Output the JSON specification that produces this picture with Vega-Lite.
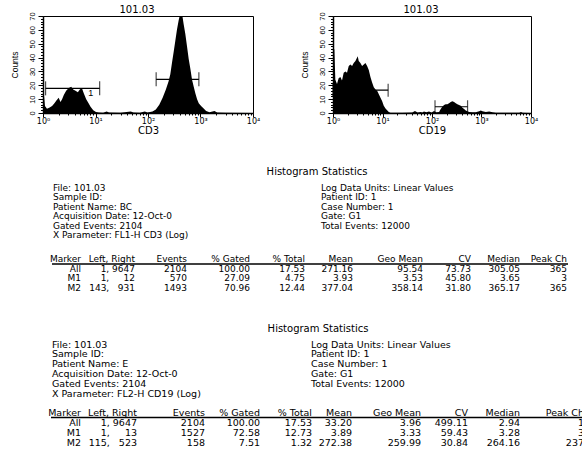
{
  "$schema": "https://vega.github.io/schema/vega-lite/v6.json",
  "padding": {"left": 9, "top": 4, "right": 0, "bottom": 0},
  "background": "white",
  "spacing": 31,
  "config": {
    "view": {"stroke": null},
    "font": "DejaVu Sans",
    "axis": {"domainColor": "black", "tickColor": "black", "labelColor": "black", "titleColor": "black", "grid": false, "titleFontWeight": "normal", "labelFlush": false},
    "title": {"fontWeight": "normal", "color": "black", "font": "DejaVu Sans"},
    "text": {"color": "black"}
  },
  "datasets": {
    "cd3": [
      {"fl": 1.0, "count": 14}, {"fl": 1.045, "count": 12}, {"fl": 1.09, "count": 5}, {"fl": 1.19, "count": 3}, {"fl": 1.34, "count": 4},
      {"fl": 1.49, "count": 5}, {"fl": 1.65, "count": 7}, {"fl": 1.8, "count": 9}, {"fl": 1.99, "count": 11}, {"fl": 2.15, "count": 8},
      {"fl": 2.31, "count": 10}, {"fl": 2.49, "count": 13}, {"fl": 2.76, "count": 16}, {"fl": 3.1, "count": 18}, {"fl": 3.44, "count": 19},
      {"fl": 3.75, "count": 17}, {"fl": 4.16, "count": 16}, {"fl": 4.61, "count": 15}, {"fl": 5.03, "count": 17}, {"fl": 5.5, "count": 18},
      {"fl": 6.0, "count": 14}, {"fl": 6.65, "count": 10}, {"fl": 7.38, "count": 7}, {"fl": 8.05, "count": 4.5}, {"fl": 9.06, "count": 2},
      {"fl": 10.2, "count": 0.8}, {"fl": 11.6, "count": 0.3}, {"fl": 14, "count": 0.2}, {"fl": 16.3, "count": 1}, {"fl": 18.1, "count": 0.3},
      {"fl": 30, "count": 0.2}, {"fl": 46.9, "count": 1}, {"fl": 52.8, "count": 0.3}, {"fl": 70, "count": 0.2}, {"fl": 86.9, "count": 1},
      {"fl": 97.8, "count": 0.3}, {"fl": 122, "count": 1}, {"fl": 141, "count": 2.5}, {"fl": 164, "count": 6}, {"fl": 190, "count": 11},
      {"fl": 219, "count": 17}, {"fl": 247, "count": 23}, {"fl": 266, "count": 28}, {"fl": 286, "count": 36}, {"fl": 308, "count": 44},
      {"fl": 331, "count": 52}, {"fl": 356, "count": 60}, {"fl": 384, "count": 67}, {"fl": 413, "count": 72}, {"fl": 444, "count": 72},
      {"fl": 478, "count": 64}, {"fl": 514, "count": 57}, {"fl": 554, "count": 48}, {"fl": 596, "count": 39}, {"fl": 641, "count": 32},
      {"fl": 690, "count": 24}, {"fl": 743, "count": 19}, {"fl": 800, "count": 14}, {"fl": 861, "count": 10}, {"fl": 926, "count": 7},
      {"fl": 1026, "count": 5}, {"fl": 1137, "count": 3.5}, {"fl": 1279, "count": 1.5}, {"fl": 1482, "count": 0.5}, {"fl": 1846, "count": 1.5},
      {"fl": 2077, "count": 0.3}, {"fl": 3000, "count": 0.1}, {"fl": 10000, "count": 0}
    ],
    "cd19": [
      {"fl": 1.0, "count": 46}, {"fl": 1.064, "count": 46}, {"fl": 1.115, "count": 24}, {"fl": 1.205, "count": 21}, {"fl": 1.3, "count": 25},
      {"fl": 1.41, "count": 26}, {"fl": 1.52, "count": 23.5}, {"fl": 1.645, "count": 29}, {"fl": 1.78, "count": 30}, {"fl": 1.92, "count": 29},
      {"fl": 2.08, "count": 34}, {"fl": 2.25, "count": 35}, {"fl": 2.43, "count": 34}, {"fl": 2.62, "count": 36}, {"fl": 2.84, "count": 37.5},
      {"fl": 3.07, "count": 40}, {"fl": 3.16, "count": 41}, {"fl": 3.31, "count": 37.5}, {"fl": 3.58, "count": 36}, {"fl": 3.87, "count": 34},
      {"fl": 4.19, "count": 35}, {"fl": 4.52, "count": 36}, {"fl": 4.89, "count": 34}, {"fl": 5.28, "count": 31}, {"fl": 5.71, "count": 26},
      {"fl": 6.17, "count": 22}, {"fl": 6.67, "count": 18.5}, {"fl": 7.21, "count": 17}, {"fl": 7.8, "count": 16}, {"fl": 8.43, "count": 13.5},
      {"fl": 9.11, "count": 11}, {"fl": 9.85, "count": 8.5}, {"fl": 10.6, "count": 5.3}, {"fl": 11.5, "count": 3.3}, {"fl": 12.4, "count": 2},
      {"fl": 13.4, "count": 0.8}, {"fl": 14.5, "count": 0.2}, {"fl": 25, "count": 0.1}, {"fl": 39.9, "count": 0.3}, {"fl": 45.2, "count": 1.5},
      {"fl": 51.2, "count": 0.3}, {"fl": 58.9, "count": 0.8}, {"fl": 63.7, "count": 0.3}, {"fl": 68.8, "count": 1}, {"fl": 76.8, "count": 0.5},
      {"fl": 86.9, "count": 1}, {"fl": 98.4, "count": 0.4}, {"fl": 110, "count": 1.5}, {"fl": 122, "count": 0.5}, {"fl": 139, "count": 0.8},
      {"fl": 150, "count": 2.8}, {"fl": 162, "count": 4.6}, {"fl": 175, "count": 5.8}, {"fl": 189, "count": 6.4}, {"fl": 205, "count": 6.4},
      {"fl": 221, "count": 7}, {"fl": 239, "count": 7.9}, {"fl": 258, "count": 8.4}, {"fl": 279, "count": 7.9}, {"fl": 302, "count": 7},
      {"fl": 326, "count": 6.4}, {"fl": 352, "count": 5.8}, {"fl": 381, "count": 5.3}, {"fl": 412, "count": 3.8}, {"fl": 445, "count": 2.8},
      {"fl": 481, "count": 1.8}, {"fl": 562, "count": 0.8}, {"fl": 657, "count": 0.5}, {"fl": 767, "count": 0.5}, {"fl": 897, "count": 1.3},
      {"fl": 969, "count": 1.8}, {"fl": 1047, "count": 1.3}, {"fl": 1224, "count": 0.8}, {"fl": 1430, "count": 1}, {"fl": 1671, "count": 0.5},
      {"fl": 1953, "count": 0.1}, {"fl": 5800, "count": 0.1}, {"fl": 6270, "count": 0.8}, {"fl": 6776, "count": 0.1}, {"fl": 10000, "count": 0}
    ],
    "cd3gates": [
      {"marker": "1", "left": 1.12, "right": 12, "level": 17.8},
      {"marker": "2", "left": 143, "right": 931, "level": 24.3}
    ],
    "cd19gates": [
      {"marker": "1", "left": 1, "right": 13, "level": 16.5},
      {"marker": "2", "left": 115, "right": 523, "level": 4.5}
    ],
    "t1info": [
      {"line": 1, "side": "L", "text": "File: 101.03"},
      {"line": 2, "side": "L", "text": "Sample ID:"},
      {"line": 3, "side": "L", "text": "Patient Name: BC"},
      {"line": 4, "side": "L", "text": "Acquisition Date: 12-Oct-0"},
      {"line": 5, "side": "L", "text": "Gated Events: 2104"},
      {"line": 6, "side": "L", "text": "X Parameter: FL1-H CD3 (Log)"},
      {"line": 1, "side": "R", "text": "Log Data Units: Linear Values"},
      {"line": 2, "side": "R", "text": "Patient ID: 1"},
      {"line": 3, "side": "R", "text": "Case Number: 1"},
      {"line": 4, "side": "R", "text": "Gate: G1"},
      {"line": 5, "side": "R", "text": "Total Events: 12000"}
    ],
    "t2info": [
      {"line": 1, "side": "L", "text": "File: 101.03"},
      {"line": 2, "side": "L", "text": "Sample ID:"},
      {"line": 3, "side": "L", "text": "Patient Name: E"},
      {"line": 4, "side": "L", "text": "Acquisition Date: 12-Oct-0"},
      {"line": 5, "side": "L", "text": "Gated Events: 2104"},
      {"line": 6, "side": "L", "text": "X Parameter: FL2-H CD19 (Log)"},
      {"line": 1, "side": "R", "text": "Log Data Units: Linear Values"},
      {"line": 2, "side": "R", "text": "Patient ID: 1"},
      {"line": 3, "side": "R", "text": "Case Number: 1"},
      {"line": 4, "side": "R", "text": "Gate: G1"},
      {"line": 5, "side": "R", "text": "Total Events: 12000"}
    ],
    "t1cells": [
      {"line": 7, "Marker": "Marker", "LeftRight": "Left, Right", "Events": "Events", "Gated": "% Gated", "Total": "% Total", "Mean": "Mean", "GeoMean": "Geo Mean", "CV": "CV", "Median": "Median", "PeakCh": "Peak Ch"},
      {"line": 8, "Marker": "All", "LeftRight": "1, 9647", "Events": "2104", "Gated": "100.00", "Total": "17.53", "Mean": "271.16", "GeoMean": "95.54", "CV": "73.73", "Median": "305.05", "PeakCh": "365"},
      {"line": 9, "Marker": "M1", "LeftRight": "1, \u2007\u200712", "Events": "570", "Gated": "27.09", "Total": "4.75", "Mean": "3.93", "GeoMean": "3.53", "CV": "45.80", "Median": "3.65", "PeakCh": "3"},
      {"line": 10, "Marker": "M2", "LeftRight": "143, \u2007931", "Events": "1493", "Gated": "70.96", "Total": "12.44", "Mean": "377.04", "GeoMean": "358.14", "CV": "31.80", "Median": "365.17", "PeakCh": "365"}
    ],
    "t2cells": [
      {"line": 7, "Marker": "Marker", "LeftRight": "Left, Right", "Events": "Events", "Gated": "% Gated", "Total": "% Total", "Mean": "Mean", "GeoMean": "Geo Mean", "CV": "CV", "Median": "Median", "PeakCh": "Peak Ch"},
      {"line": 8, "Marker": "All", "LeftRight": "1, 9647", "Events": "2104", "Gated": "100.00", "Total": "17.53", "Mean": "33.20", "GeoMean": "3.96", "CV": "499.11", "Median": "2.94", "PeakCh": "1"},
      {"line": 9, "Marker": "M1", "LeftRight": "1, \u2007\u200713", "Events": "1527", "Gated": "72.58", "Total": "12.73", "Mean": "3.89", "GeoMean": "3.33", "CV": "59.43", "Median": "3.28", "PeakCh": "3"},
      {"line": 10, "Marker": "M2", "LeftRight": "115, \u2007523", "Events": "158", "Gated": "7.51", "Total": "1.32", "Mean": "272.38", "GeoMean": "259.99", "CV": "30.84", "Median": "264.16", "PeakCh": "237"}
    ],
    "rule": [{"line": 7, "from": 0, "to": 10}]
  },
  "vconcat": [
    {
      "spacing": 38,
      "hconcat": [
        {
          "width": 210, "height": 97,
          "view": {"stroke": "black", "strokeWidth": 1},
          "title": {"text": "101.03", "fontSize": 10, "offset": -3, "dx": -11, "anchor": "middle", "frame": "group"},
          "resolve": {"axis": {"x": "independent", "y": "independent"}},
          "layer": [
            {
              "data": {"name": "cd3"},
              "mark": {"type": "area", "color": "black", "clip": true, "interpolate": "linear"},
              "encoding": {
                "x": {"field": "fl", "type": "quantitative", "title": "CD3",
                  "scale": {"type": "log", "domain": [1, 10000], "nice": false},
                  "axis": {"orient": "bottom", "values": [1, 10, 100, 1000, 10000],
                    "labelExpr": "datum.value == 1 ? '10⁰' : datum.value == 10 ? '10¹' : datum.value == 100 ? '10²' : datum.value == 1000 ? '10³' : '10⁴'",
                    "tickSize": 4, "labelPadding": 0, "titlePadding": 0, "labelFont": "DejaVu Sans", "labelFontSize": 8, "titleFont": "DejaVu Sans", "titleFontSize": 10, "labelOverlap": false, "domainWidth": 1.5}},
                "y": {"field": "count", "type": "quantitative", "title": "Counts",
                  "scale": {"domain": [0, 70], "nice": false},
                  "axis": {"orient": "left", "values": [0, 10, 20, 30, 40, 50, 60, 70],
                    "tickSize": 5, "labelAngle": -90, "labelAlign": "center", "labelBaseline": "bottom", "labelPadding": 2,
                    "labelFont": "Liberation Sans", "labelFontSize": 7.5, "titleFont": "Liberation Sans", "titleFontSize": 8.5, "titlePadding": 9, "labelOverlap": false, "domainWidth": 1.5}}
              }
            },
            {
              "data": {"name": "cd3gates"},
              "mark": {"type": "rule", "color": "black", "strokeWidth": 1.2},
              "encoding": {
                "x": {"field": "left", "type": "quantitative",
                  "axis": {"orient": "bottom", "values": [2,3,4,5,6,7,8,9,20,30,40,50,60,70,80,90,200,300,400,500,600,700,800,900,2000,3000,4000,5000,6000,7000,8000,9000],
                    "labels": false, "title": null, "domain": false, "tickSize": 2}},
                "x2": {"field": "right"},
                "y": {"field": "level", "type": "quantitative",
                  "axis": {"orient": "left", "values": [2,4,6,8,12,14,16,18,22,24,26,28,32,34,36,38,42,44,46,48,52,54,56,58,62,64,66,68],
                    "labels": false, "title": null, "domain": false, "tickSize": 2.5}}
              }
            },
            {
              "data": {"name": "cd3gates"},
              "transform": [{"fold": ["left", "right"], "as": ["end", "pos"]}],
              "mark": {"type": "tick", "orient": "vertical", "size": 14, "thickness": 1.2, "color": "black"},
              "encoding": {"x": {"field": "pos", "type": "quantitative", "axis": null}, "y": {"field": "level", "type": "quantitative", "axis": null}}
            },
            {
              "data": {"name": "cd3gates"},
              "mark": {"type": "text", "dx": -9, "dy": 5, "fontSize": 9, "font": "Liberation Sans"},
              "encoding": {"x": {"field": "right", "type": "quantitative", "axis": null}, "y": {"field": "level", "type": "quantitative", "axis": null}, "text": {"field": "marker"}}
            }
          ]
        },
        {
          "width": 198, "height": 97,
          "view": {"stroke": "black", "strokeWidth": 1},
          "title": {"text": "101.03", "fontSize": 10, "offset": -3, "dx": -11, "anchor": "middle", "frame": "group"},
          "resolve": {"axis": {"x": "independent", "y": "independent"}},
          "layer": [
            {
              "data": {"name": "cd19"},
              "mark": {"type": "area", "color": "black", "clip": true, "interpolate": "linear"},
              "encoding": {
                "x": {"field": "fl", "type": "quantitative", "title": "CD19",
                  "scale": {"type": "log", "domain": [1, 10000], "nice": false},
                  "axis": {"orient": "bottom", "values": [1, 10, 100, 1000, 10000],
                    "labelExpr": "datum.value == 1 ? '10⁰' : datum.value == 10 ? '10¹' : datum.value == 100 ? '10²' : datum.value == 1000 ? '10³' : '10⁴'",
                    "tickSize": 4, "labelPadding": 0, "titlePadding": 0, "labelFont": "DejaVu Sans", "labelFontSize": 8, "titleFont": "DejaVu Sans", "titleFontSize": 10, "labelOverlap": false, "domainWidth": 1.5}},
                "y": {"field": "count", "type": "quantitative", "title": "Counts",
                  "scale": {"domain": [0, 70], "nice": false},
                  "axis": {"orient": "left", "values": [0, 10, 20, 30, 40, 50, 60, 70],
                    "tickSize": 5, "labelAngle": -90, "labelAlign": "center", "labelBaseline": "bottom", "labelPadding": 2,
                    "labelFont": "Liberation Sans", "labelFontSize": 7.5, "titleFont": "Liberation Sans", "titleFontSize": 8.5, "titlePadding": 9, "labelOverlap": false, "domainWidth": 1.5}}
              }
            },
            {
              "data": {"name": "cd19gates"},
              "mark": {"type": "rule", "color": "black", "strokeWidth": 1.2},
              "encoding": {
                "x": {"field": "left", "type": "quantitative",
                  "axis": {"orient": "bottom", "values": [2,3,4,5,6,7,8,9,20,30,40,50,60,70,80,90,200,300,400,500,600,700,800,900,2000,3000,4000,5000,6000,7000,8000,9000],
                    "labels": false, "title": null, "domain": false, "tickSize": 2}},
                "x2": {"field": "right"},
                "y": {"field": "level", "type": "quantitative",
                  "axis": {"orient": "left", "values": [2,4,6,8,12,14,16,18,22,24,26,28,32,34,36,38,42,44,46,48,52,54,56,58,62,64,66,68],
                    "labels": false, "title": null, "domain": false, "tickSize": 2.5}}
              }
            },
            {
              "data": {"name": "cd19gates"},
              "transform": [{"fold": ["left", "right"], "as": ["end", "pos"]}],
              "mark": {"type": "tick", "orient": "vertical", "size": 13, "thickness": 1.2, "color": "black"},
              "encoding": {"x": {"field": "pos", "type": "quantitative", "axis": null}, "y": {"field": "level", "type": "quantitative", "axis": null}}
            }
          ]
        }
      ]
    },
    {
      "width": 539, "height": 112,
      "title": {"text": "Histogram Statistics", "fontSize": 10, "offset": 4, "dx": 4.5, "anchor": "middle"},
      "resolve": {"scale": {"x": "independent"}},
      "layer": [
        {
          "data": {"name": "t1info"},
          "mark": {"type": "text", "align": "left", "baseline": "middle", "fontSize": 9, "clip": true},
          "encoding": {
            "x": {"field": "side", "type": "nominal", "scale": {"type": "point", "domain": ["L", "R"], "range": [10, 278], "padding": 0}, "axis": null},
            "y": {"field": "line", "type": "quantitative", "scale": {"domain": [1, 6, 7, 10], "range": [7, 54, 78, 106.6], "nice": false, "zero": false}, "axis": null},
            "text": {"field": "text"}
          }
        },
        {
          "data": {"name": "t1cells"},
          "transform": [
            {"fold": ["Marker", "LeftRight", "Events", "Gated", "Total", "Mean", "GeoMean", "CV", "Median", "PeakCh"], "as": ["column", "text"]},
            {"window": [{"op": "row_number", "as": "col"}], "groupby": ["line"]}
          ],
          "mark": {"type": "text", "align": "right", "baseline": "middle", "fontSize": 9, "clip": true},
          "encoding": {
            "x": {"field": "col", "type": "quantitative", "scale": {"domain": [0,1,2,3,4,5,6,7,8,9,10], "range": [9,38,92,144,207,262,310,380,428,477,524], "nice": false, "zero": false}, "axis": null},
            "y": {"field": "line", "type": "quantitative", "scale": {"domain": [1, 6, 7, 10], "range": [7, 54, 78, 106.6], "nice": false, "zero": false}, "axis": null},
            "text": {"field": "text"}
          }
        },
        {
          "data": {"name": "rule"},
          "mark": {"type": "rule", "color": "black", "strokeWidth": 1.3, "yOffset": 5},
          "encoding": {
            "x": {"field": "from", "type": "quantitative", "scale": {"domain": [0,1,2,3,4,5,6,7,8,9,10], "range": [9,38,92,144,207,262,310,380,428,477,525], "nice": false, "zero": false}, "axis": null},
            "x2": {"field": "to"},
            "y": {"field": "line", "type": "quantitative", "scale": {"domain": [1, 6, 7, 10], "range": [7, 54, 78, 106.6], "nice": false, "zero": false}, "axis": null}
          }
        }
      ]
    },
    {
      "width": 539, "height": 119,
      "title": {"text": "Histogram Statistics", "fontSize": 10, "offset": 4, "dx": 5.5, "anchor": "middle"},
      "resolve": {"scale": {"x": "independent"}},
      "layer": [
        {
          "data": {"name": "t2info"},
          "mark": {"type": "text", "align": "left", "baseline": "middle", "fontSize": 9.5, "clip": true},
          "encoding": {
            "x": {"field": "side", "type": "nominal", "scale": {"type": "point", "domain": ["L", "R"], "range": [9, 268], "padding": 0}, "axis": null},
            "y": {"field": "line", "type": "quantitative", "scale": {"domain": [1, 6, 7, 10], "range": [6.5, 55.5, 75, 104.5], "nice": false, "zero": false}, "axis": null},
            "text": {"field": "text"}
          }
        },
        {
          "data": {"name": "t2cells"},
          "transform": [
            {"fold": ["Marker", "LeftRight", "Events", "Gated", "Total", "Mean", "GeoMean", "CV", "Median", "PeakCh"], "as": ["column", "text"]},
            {"window": [{"op": "row_number", "as": "col"}], "groupby": ["line"]}
          ],
          "mark": {"type": "text", "align": "right", "baseline": "middle", "fontSize": 9.5, "clip": true},
          "encoding": {
            "x": {"field": "col", "type": "quantitative", "scale": {"domain": [0,1,2,3,4,5,6,7,8,9,10], "range": [8,38,94,162,217,269,309,378,425,477,541], "nice": false, "zero": false}, "axis": null},
            "y": {"field": "line", "type": "quantitative", "scale": {"domain": [1, 6, 7, 10], "range": [6.5, 55.5, 75, 104.5], "nice": false, "zero": false}, "axis": null},
            "text": {"field": "text"}
          }
        },
        {
          "data": {"name": "rule"},
          "mark": {"type": "rule", "color": "black", "strokeWidth": 1.3, "yOffset": 4.5, "clip": true},
          "encoding": {
            "x": {"field": "from", "type": "quantitative", "scale": {"domain": [0,1,2,3,4,5,6,7,8,9,10], "range": [8,38,94,162,217,269,309,378,425,477,545], "nice": false, "zero": false}, "axis": null},
            "x2": {"field": "to"},
            "y": {"field": "line", "type": "quantitative", "scale": {"domain": [1, 6, 7, 10], "range": [6.5, 55.5, 75, 104.5], "nice": false, "zero": false}, "axis": null}
          }
        }
      ]
    }
  ]
}
